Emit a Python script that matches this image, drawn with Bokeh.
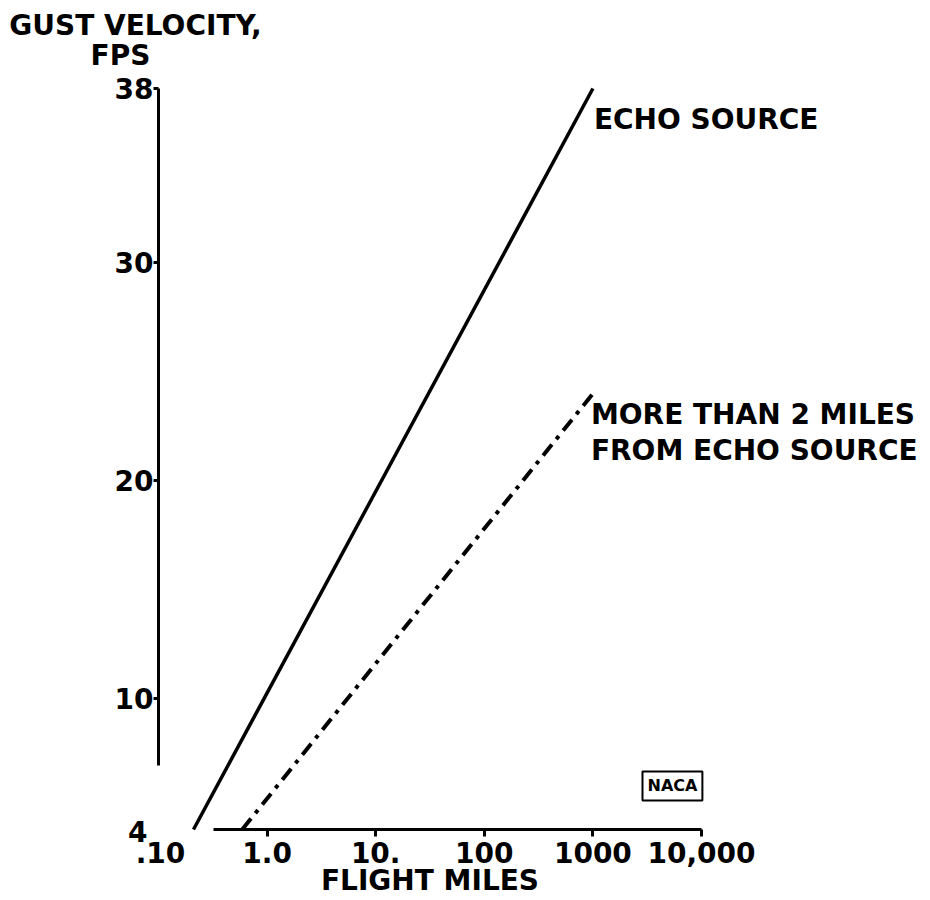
import math
from bokeh.plotting import figure
from bokeh.models import Range1d, FixedTicker, Label
from bokeh.embed import file_html
from bokeh.resources import INLINE

# ---- data ----
flight_miles_echo = [0.21, 1000]
gust_echo = [4, 38]
flight_miles_far = [0.59, 1000]
gust_far = [4, 24]

x_ticks = [1, 10, 100, 1000, 10000]
x_tick_labels = ["1.0", "10.", "100", "1000", "10,000"]
y_ticks = [10, 20, 30, 38]
y_tick_labels = ["10", "20", "30", "38"]
x_origin, x_origin_label = 0.1, ".10"
y_origin, y_origin_label = 4, "4"
x_axis_start, y_axis_start = 0.32, 6.94
y_top = 38

series_echo_label = "ECHO SOURCE"
series_far_label = "MORE THAN 2 MILES\nFROM ECHO SOURCE"
x_title = "FLIGHT MILES"
y_title_1 = "GUST VELOCITY,"
y_title_2 = "FPS"
emblem_text = "NACA"
emblem_pos = (5400, 6.0)

# ---- layout (pixel geometry of the page) ----
FONT = "DejaVu Sans"
FS = "28px"
W, H = 930, 900
x0_px, decade_px = 158, 108.6          # where 0.1 sits, width of one decade
y_origin_px, y_top_px = 829, 88        # where 4 and 38 sit
unit_px = (y_origin_px - y_top_px) / (y_top - y_origin)

x_start = x_origin * 10 ** (-x0_px / decade_px)
x_end = x_origin * 10 ** ((W - x0_px) / decade_px)
y_start = y_origin - (H - y_origin_px) / unit_px
y_end = y_top + y_top_px / unit_px

p = figure(
    x_axis_type="log",
    x_range=Range1d(x_start, x_end),
    y_range=Range1d(y_start, y_end),
    width=W, height=H,
    min_border=0,
    toolbar_location=None, output_backend="svg",
)
p.grid.visible = False
p.outline_line_color = None
p.background_fill_color = "white"
p.border_fill_color = "white"

xa = p.xaxis[0]
xa.fixed_location = y_origin
xa.ticker = FixedTicker(ticks=x_ticks, minor_ticks=[])
xa.major_label_overrides = {float(t): l for t, l in zip(x_ticks, x_tick_labels)}
xa.bounds = (x_axis_start, x_ticks[-1])
xa.axis_line_width = 3
xa.axis_line_color = "black"
xa.major_tick_line_width = 3
xa.major_tick_line_color = "black"
xa.major_tick_in = 0
xa.major_tick_out = 7
xa.minor_tick_line_color = None
xa.major_label_text_font = FONT
xa.major_label_text_font_style = "bold"
xa.major_label_text_font_size = FS
xa.major_label_text_color = "black"
xa.major_label_standoff = 5

ya = p.yaxis[0]
ya.fixed_location = x_origin
ya.ticker = FixedTicker(ticks=y_ticks, minor_ticks=[])
ya.major_label_overrides = {float(t): l for t, l in zip(y_ticks, y_tick_labels)}
ya.bounds = (y_axis_start, y_top)
ya.axis_line_width = 3
ya.axis_line_color = "black"
ya.major_tick_line_width = 3
ya.major_tick_line_color = "black"
ya.major_tick_in = 0
ya.major_tick_out = 5
ya.minor_tick_line_color = None
ya.major_label_text_font = FONT
ya.major_label_text_font_style = "bold"
ya.major_label_text_font_size = FS
ya.major_label_text_color = "black"
ya.major_label_standoff = 0

# ---- series ----
p.line(flight_miles_echo, gust_echo, line_color="black", line_width=3.5)
p.line(flight_miles_far, gust_far, line_color="black", line_width=4,
       line_dash="14 7 4 7")

common = dict(text_font=FONT, text_font_style="bold", text_font_size=FS,
              text_color="black")

p.add_layout(Label(x=flight_miles_echo[-1], y=gust_echo[-1], x_offset=1, y_offset=-31,
                   text=series_echo_label, text_align="left", text_baseline="middle", **common))
p.add_layout(Label(x=flight_miles_far[-1], y=gust_far[-1], x_offset=-2, y_offset=-39,
                   text=series_far_label, text_align="left", text_baseline="middle",
                   text_line_height=1.1, **common))

# origin labels ("4" and ".10")
p.add_layout(Label(x=x_origin, y=y_origin, x_offset=-11, y_offset=-2, text=y_origin_label,
                   text_align="right", text_baseline="middle", **common))
p.add_layout(Label(x=x_origin, y=y_origin, x_offset=2, y_offset=-12, text=x_origin_label,
                   text_align="center", text_baseline="top", **common))

# axis titles
p.add_layout(Label(x=x_origin, y=y_top, x_offset=-23, y_offset=63, text=y_title_1,
                   text_align="center", text_baseline="middle", **common))
p.add_layout(Label(x=x_origin, y=y_top, x_offset=-38, y_offset=33, text=y_title_2,
                   text_align="center", text_baseline="middle", **common))
x_title_pos = 10 ** ((math.log10(x_ticks[1]) + math.log10(x_ticks[2])) / 2)
p.add_layout(Label(x=x_title_pos, y=y_origin, y_offset=-51, text=x_title,
                   text_align="center", text_baseline="middle", **common))

# NACA emblem
p.add_layout(Label(x=emblem_pos[0], y=emblem_pos[1], text=emblem_text,
                   text_align="center", text_baseline="middle",
                   text_font=FONT, text_font_style="bold", text_font_size="16px",
                   text_color="black",
                   border_line_color="black", border_line_width=2,
                   background_fill_color="white", padding=5))

open("out.html", "w").write(file_html(p, INLINE))
